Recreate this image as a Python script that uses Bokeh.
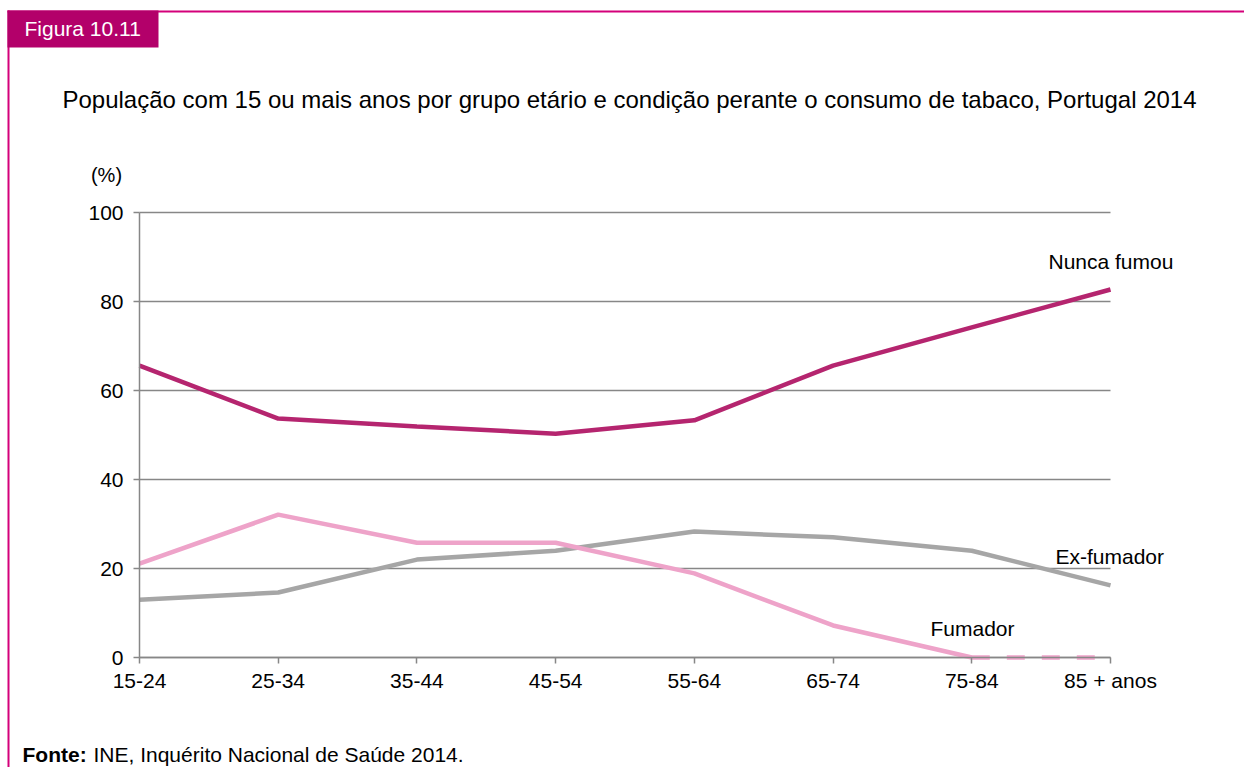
from bokeh.plotting import figure
from bokeh.models import Range1d, FixedTicker, Label, BoxAnnotation
from bokeh.embed import file_html
from bokeh.resources import INLINE

categories = ["15-24", "25-34", "35-44", "45-54", "55-64", "65-74", "75-84", "85 + anos"]
nunca_fumou = [65.6, 53.7, 51.9, 50.3, 53.3, 65.6, 74.2, 82.7]
ex_fumador = [13.0, 14.6, 22.0, 24.0, 28.3, 27.0, 24.0, 16.2]
fumador = [21.1, 32.1, 25.8, 25.8, 18.9, 7.2, 0.0, 0.0]
y_ticks = [0, 20, 40, 60, 80, 100]

title_text = "População com 15 ou mais anos por grupo etário e condição perante o consumo de tabaco, Portugal 2014"
FONT = "Liberation Sans"
GRID = "#878787"

W, H = 1244, 767
# pixel placement of the data area inside the canvas
PX_LEFT, PX_RIGHT, PX_TOP, PX_BOTTOM = 139, 1110, 212, 657
n = len(categories)
xs = (PX_RIGHT - PX_LEFT) / (n - 1)
ys = (PX_BOTTOM - PX_TOP) / 100.0
x_range = Range1d(-PX_LEFT / xs, (n - 1) + (W - PX_RIGHT) / xs)
y_range = Range1d(-(H - PX_BOTTOM) / ys, 100 + PX_TOP / ys)

x = list(range(n))

p = figure(width=W, height=H, output_backend="svg", toolbar_location=None,
           x_range=x_range, y_range=y_range,
           min_border_left=0, min_border_right=0, min_border_top=0, min_border_bottom=0)
p.outline_line_color = None
p.background_fill_color = "white"
p.border_fill_color = "white"

# axes drawn at fixed data positions
p.xaxis.fixed_location = 0
p.yaxis.fixed_location = 0
p.xaxis.bounds = (0, n - 1)
p.yaxis.bounds = (0, 100)
p.xaxis.ticker = FixedTicker(ticks=x)
p.xaxis.major_label_overrides = {i: c for i, c in enumerate(categories)}
p.yaxis.ticker = FixedTicker(ticks=y_ticks)
for ax in (p.xaxis[0], p.yaxis[0]):
    ax.axis_line_color = GRID
    ax.axis_line_width = 1.5
    ax.major_tick_line_color = GRID
    ax.major_tick_line_width = 1.5
    ax.major_tick_in = 0
    ax.major_tick_out = 6
    ax.minor_tick_line_color = None
    ax.major_label_text_font = FONT
    ax.major_label_text_font_size = "21px"
    ax.major_label_text_color = "black"
p.yaxis.major_label_standoff = 10
p.xaxis.major_label_standoff = 5
p.xgrid.grid_line_color = None
p.ygrid.grid_line_color = GRID
p.ygrid.grid_line_width = 1.5
p.ygrid.ticker = FixedTicker(ticks=y_ticks)
p.ygrid.bounds = (0, 100)
p.ygrid.cross_bounds = (0, n - 1)

# series
p.line(x, ex_fumador, line_color="#a6a6a6", line_width=4.5)
p.line(x[:7], fumador[:7], line_color="#eea3c9", line_width=4.5)
p.line(x[6:], fumador[6:], line_color="#eea3c9", line_width=4.5, line_dash="18 17")
p.line(x, nunca_fumou, line_color="#b5256f", line_width=4.5)

# decorations (screen units from bottom-left of canvas)
def sy(page_y):
    return H - page_y

def box(l, r, t, b, color):
    p.add_layout(BoxAnnotation(left=l, right=r, top=sy(t), bottom=sy(b),
                               left_units="screen", right_units="screen",
                               top_units="screen", bottom_units="screen",
                               fill_color=color, fill_alpha=1, line_color=None))

MAG = "#d4007a"
box(7, W, 10, 12, MAG)
box(7, 9, 10, H, MAG)
box(7, 158, 10, 47, "#b3006a")

SHIFT = 8  # baseline correction

def label(x0, page_y, text, size="21px", align="left", color="black", style="normal"):
    p.add_layout(Label(x=x0, y=sy(page_y - SHIFT), x_units="screen", y_units="screen", text=text,
                       text_font=FONT, text_font_size=size, text_color=color,
                       text_align=align, text_baseline="alphabetic", text_font_style=style))

label(24, 36, "Figura 10.11", size="21px", color="white")
label(629, 107, title_text, size="24px", align="center")
label(106, 182, "(%)", size="20px", align="center")
label(1048, 269, "Nunca fumou")
label(1055, 564, "Ex-fumador")
label(930, 636, "Fumador")
label(22, 762, "Fonte:", size="21px", style="bold")
label(93, 762, "INE, Inquérito Nacional de Saúde 2014.", size="21px")

open("out.html", "w").write(file_html(p, INLINE))
